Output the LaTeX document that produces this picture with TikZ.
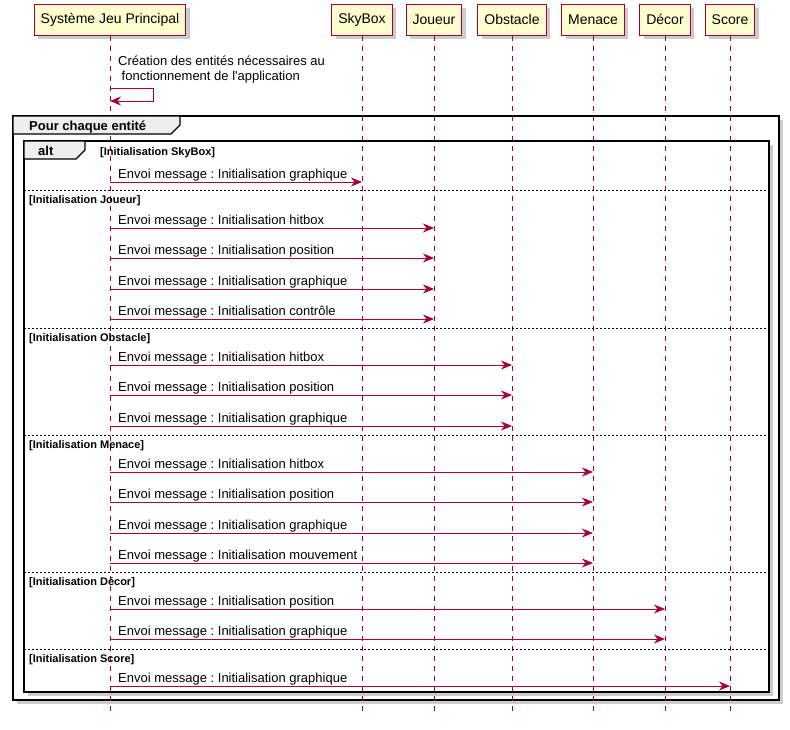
\documentclass[tikz,border=0pt]{standalone}
\usepackage{fontspec}
\setmainfont{Liberation Sans}
\newfontfamily\plainsans{Liberation Sans}
\usetikzlibrary{arrows.meta,shadows}
\definecolor{umlred}{HTML}{A80036}
\definecolor{umlyellow}{HTML}{FEFECE}
\definecolor{umlgray}{HTML}{EEEEEE}
\frenchspacing

\begin{document}
\begin{tikzpicture}[x=1pt, y=-1pt]
  \tikzstyle{actor}=[draw=umlred, line width=1pt, fill=umlyellow, minimum height=31pt, inner xsep=6.5pt,
    font=\fontsize{14}{16}\selectfont, drop shadow={shadow xshift=4pt, shadow yshift=-4pt, fill=black!40}]
  \tikzstyle{life}=[draw=umlred, line width=0.8pt, dash pattern=on 5pt off 5pt]
  \tikzstyle{msg}=[draw=umlred, line width=1pt, -{Stealth[length=11pt, width=9pt, inset=3.5pt]}]
  \tikzstyle{msgtext}=[anchor=base west, inner sep=0pt, font=\fontsize{13}{15}\selectfont]
  \tikzstyle{frame}=[draw=black, line width=1.8pt, fill=white, drop shadow={shadow xshift=4pt, shadow yshift=-4pt, fill=black!40}]
  \tikzstyle{tab}=[draw=black, line width=1.3pt, fill=umlgray]
  \tikzstyle{tabtext}=[anchor=base west, inner sep=0pt, font=\bfseries\fontsize{13}{15}\selectfont]
  \tikzstyle{guard}=[anchor=base west, inner sep=0pt, font=\bfseries\fontsize{11}{13}\selectfont]
  \tikzstyle{sep}=[draw=black, line width=0.8pt, dash pattern=on 2pt off 2pt]

  \useasboundingbox (0,0) rectangle (790,729);

  % frames
  \draw[frame] (13,116) rectangle (779,700);
  \draw[frame] (24,141) rectangle (769,692);

  % participants
  \node[actor] (sjp)  at (110,  19.5) {Système Jeu Principal};
  \node[actor] (sky)  at (362,  19.5) {SkyBox};
  \node[actor] (joue) at (434,  19.5) {Joueur};
  \node[actor] (obst) at (512,  19.5) {Obstacle};
  \node[actor] (mena) at (593,  19.5) {Menace};
  \node[actor] (deco) at (665,  19.5) {Décor};
  \node[actor] (scor) at (730,  19.5) {Score};

  % lifelines
  \foreach \p in {sjp, sky, joue, obst, mena, deco, scor} {
    \coordinate (end-\p) at (\p |- 0,715);
    \path[life] (\p.south) -- (end-\p);
  }

  % self message
  \coordinate (self-a) at (sjp |- 0,88);
  \coordinate (self-b) at (153,88);
  \coordinate (self-c) at (153,101);
  \coordinate (self-d) at (sjp |- 0,101);
  \node[msgtext, align=left, anchor=north west] (crea) at (118,56)
    {Création des entités nécessaires au\\ \hspace{3.5pt}fonctionnement de {\plainsans l'application}};
  \draw[msg] (self-a) -- (self-b) -- (self-c) -- (self-d);

  % tabs
  \draw[tab] (13,116) -- (180,116) -- (180,125) -- (171,134) -- (13,134) -- cycle;
  \node[tabtext] (loop) at (29,130) {Pour chaque entité};
  \draw[tab] (24,141) -- (85,141) -- (85,150) -- (76,159) -- (24,159) -- cycle;
  \node[tabtext] (alt) at (38,155) {alt};
  \node[guard] (g0) at (100,155) {[Initialisation SkyBox]};

  % separators
  \foreach \y/\g [count=\i] in {190/Joueur, 328/Obstacle, 435/Menace, 572/Décor, 649/Score} {
    \coordinate (sep\i-l) at (24,\y);
    \coordinate (sep\i-r) at (769,\y);
    \path[sep] (sep\i-l) -- (sep\i-r);
    \node[guard] (g\i) at (29,\y+13) {[Initialisation \g]};
  }

  % messages
  \foreach \y/\t/\w [count=\i] in {182/sky/graphique,
      228/joue/hitbox, 258/joue/position, 289/joue/graphique, 319/joue/contrôle,
      365/obst/hitbox, 395/obst/position, 426/obst/graphique,
      472/mena/hitbox, 502/mena/position, 533/mena/graphique, 563/mena/mouvement,
      609/deco/position, 639/deco/graphique,
      686/scor/graphique} {
    \coordinate (s\i) at (sjp |- 0,\y);
    \coordinate (t\i) at (\t |- 0,\y);
    \draw[msg] (s\i) -- (t\i);
    \node[msgtext] (m\i) at (118,\y-4) {Envoi message : Initialisation \w};
  }
\end{tikzpicture}
\end{document}
